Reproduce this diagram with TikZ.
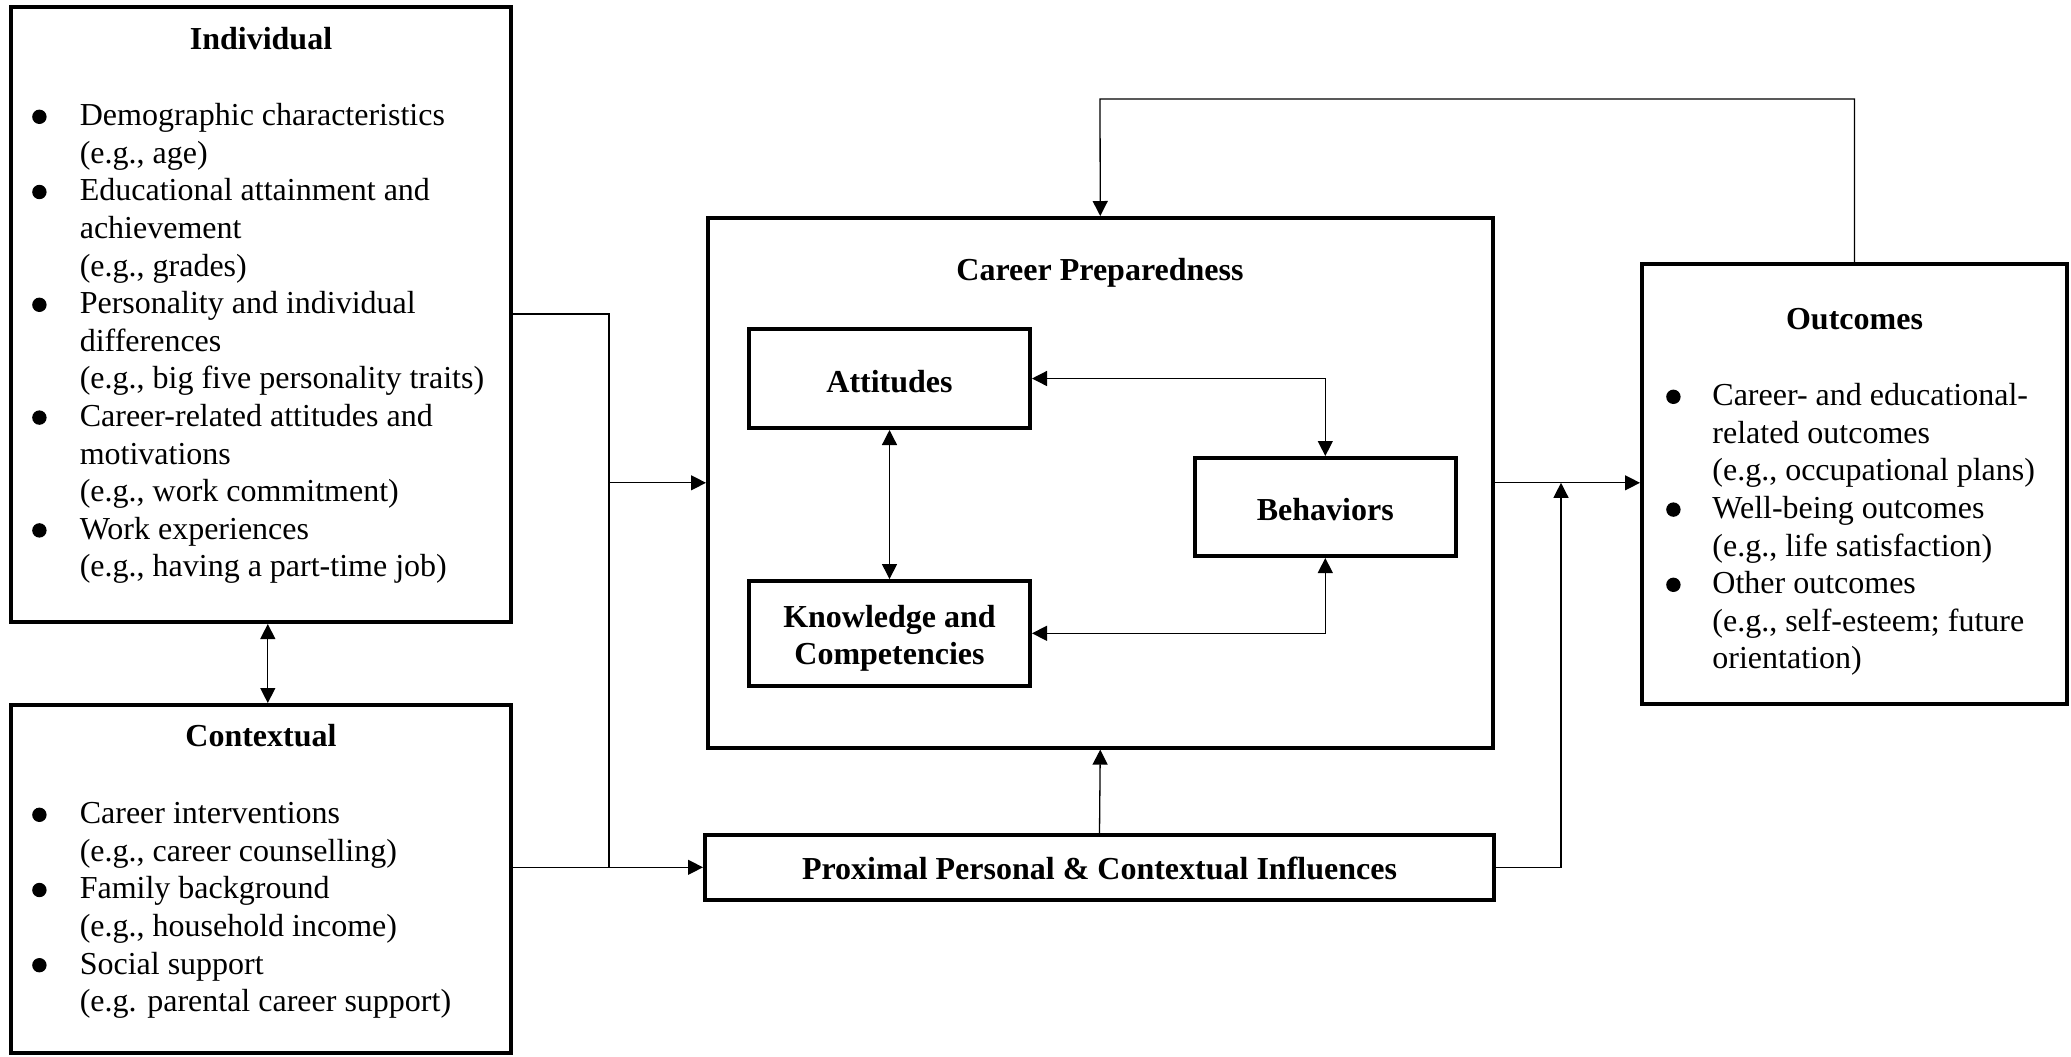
\documentclass[tikz,border=0pt]{standalone}
\usepackage{fontspec}
\setmainfont{Liberation Serif}
\usetikzlibrary{arrows.meta,fit}
\tikzset{
  txt/.style={font=\fontsize{16}{18.8}\selectfont},
  bigbox/.style={draw, line width=2pt, inner sep=0pt},
  smallbox/.style={draw, line width=2pt, inner sep=0pt,
    font=\bfseries\fontsize{16}{18.8}\selectfont},
  ttl/.style={font=\bfseries\fontsize{16}{18.8}\selectfont, anchor=base, inner sep=0pt},
  lst/.style={txt, anchor=base west, inner sep=0pt},
  conn/.style={line width=0.65pt},
  arr/.style={conn, -{Triangle[length=7.5pt,width=7.5pt]}},
  dbl/.style={conn, {Triangle[length=7.5pt,width=7.5pt]}-{Triangle[length=7.5pt,width=7.5pt]}}
}
\newcommand{\bulA}{\makebox[23.8pt][l]{\tikz[baseline=0pt]\fill (3.6pt,4.4pt) circle[radius=3.6pt];}}
\newcommand{\bulB}{\makebox[23.1pt][l]{\tikz[baseline=0pt]\fill (3.6pt,4.4pt) circle[radius=3.6pt];}}
\newcommand{\dropby}[2]{\raisebox{-#1}[\height][\depth]{#2}}
\begin{document}
\begin{tikzpicture}[x=0.5pt,y=-0.5pt]
\useasboundingbox (0,0) rectangle (2071,1056);

% big boxes
\node[bigbox, fit={(10.6,6.6) (511,622)}] (ind) {};
\node[bigbox, fit={(10.6,705) (511,1053)}] (ctx) {};
\node[bigbox, fit={(708,218) (1492.5,747.6)}] (cp) {};
\node[bigbox, fit={(1642,264) (2067,704)}] (out) {};

% titles
\node[ttl] (indt) at (261,49) {Individual};
\node[ttl] (ctxt) at (261,746) {Contextual};
\node[ttl] (cpt) at (1100,280.6) {Career Preparedness};
\node[ttl] (outt) at (1854.5,329) {Outcomes};

% lists
\node[lst] (indl) at (31.8,125.6) {\begin{tabular}[t]{@{}l@{}l@{}}
\bulA & Demographic characteristics\\
 & (e.g., age)\\
\bulA & Educational attainment and\\
 & achievement\\
 & (e.g., grades)\\
\bulA & Personality and individual\\
 & differences\\
 & (e.g., big five personality traits)\\
\bulA & Career-related attitudes and\\
 & motivations\\
 & (e.g., work commitment)\\
\bulA & Work experiences\\
 & (e.g., having a part-time job)
\end{tabular}};

\node[lst] (ctxl) at (31.8,823.6) {\begin{tabular}[t]{@{}l@{}l@{}}
\bulA & Career interventions\\
 & (e.g., career counselling)\\
\bulA & Family background\\
 & (e.g., household income)\\
\bulA & Social support\\
 & (e.g. parental career support)
\end{tabular}};

\node[lst] (outl) at (1665.8,405.6) {\begin{tabular}[t]{@{}l@{}l@{}}
\bulB & Career- and educational-\\
 & related outcomes\\
 & (e.g., occupational plans)\\
\bulB & Well-being outcomes\\
 & (e.g., life satisfaction)\\
\bulB & Other outcomes\\
 & (e.g., self-esteem; future\\
 & orientation)
\end{tabular}};

% inner boxes
\node[smallbox, minimum width=140.5pt, minimum height=49.5pt] (att) at (889.5,378.5) {\dropby{1.3pt}{Attitudes}};
\node[smallbox, minimum width=140.5pt, minimum height=52.25pt] (kn) at (889.5,633.3)
  {\dropby{2.6pt}{\begin{tabular}{@{}c@{}}Knowledge and\\Competencies\end{tabular}}};
\node[smallbox, minimum width=130.25pt, minimum height=49pt] (beh) at (1325.3,507) {\dropby{1.3pt}{Behaviors}};
\node[smallbox, minimum width=394.5pt, minimum height=32.25pt] (prox) at (1099.5,867.3) {\dropby{0.65pt}{Proximal Personal \& Contextual Influences}};

% helper coordinates
\coordinate (split) at (609,314);
\coordinate (merge) at (1561,482.8);
\coordinate (fbtop) at (1100,99);

% connectors
\draw[dbl] ([xshift=3.5pt]ind.south) -- ([xshift=3.5pt]ctx.north);
\draw[conn] (ind.east |- split) -- (split) -- (split |- prox.west);
\draw[arr] (split |- cp.west) -- (cp.west);
\draw[arr] (ctx.east |- prox.west) -- (prox.west);
\draw[arr] (prox.north) -- (cp.south);
\draw[arr] (cp.east) -- (cp.east -| out.west);
\draw[arr] (prox.east) -| (merge);
\draw[arr] (out.north) |- (fbtop) -- (cp.north);
\draw[dbl] (att.south) -- (kn.north);
\draw[dbl] (att.east) -| (beh.north);
\draw[dbl] (kn.east) -| (beh.south);
\end{tikzpicture}
\end{document}
